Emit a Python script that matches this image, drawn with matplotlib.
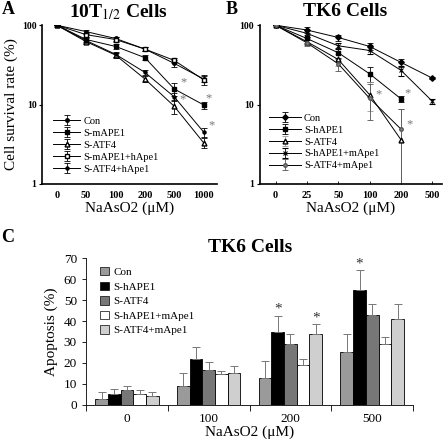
import matplotlib

matplotlib.use("Agg")

import matplotlib.pyplot as plt
import numpy as np
from matplotlib.patches import Patch

plt.rcParams["font.family"] = ["Liberation Serif", "DejaVu Serif"]
plt.rcParams["mathtext.fontset"] = "stix"

# ---- panel A: 10T1/2 cells survival ----
doses_a = ["0", "50", "100", "200", "500", "1000"]
a_con = [100, 83, 68, 50, 33, 21]
a_con_err = [0, 5, 4, 3, 3, 2]
a_mape1 = [100, 66, 54, 39, 15.7, 9.9]
a_mape1_err = [0, 5, 4, 3, 3, 1]
a_atf4 = [100, 62, 42, 21, 9.5, 3.3]
a_atf4_err = [0, 4, 3, 2, 1.8, 0.5]
a_mape1_hape1 = [100, 76, 66, 50, 36, 20.5]
a_mape1_hape1_err = [0, 4, 4, 3, 3, 3]
a_atf4_hape1 = [100, 64, 43, 25.4, 12.5, 4.5]
a_atf4_hape1_err = [0, 4, 3, 2, 1.5, 0.6]
a_stars = [(4.3, 19), (4.28, 11.5), (5.17, 12), (5.27, 5.5)]

# ---- panel B: TK6 cells survival ----
doses_b = ["0", "25", "50", "100", "200", "500"]
b_con = [100, 87, 70, 54, 34, 21.5]
b_con_err = [0, 8, 6, 5, 4, 0.5]
b_hape1 = [100, 68, 45, 24.4, 11.8]
b_hape1_err = [0, 8, 6, 5, 1]
b_atf4 = [100, 62, 37, 13.3, 3.6]
b_atf4_lo = [0, 5, 6, 5, 3.3]
b_atf4_hi = [0, 6, 6, 6, 5.2]
b_hape1_mape1 = [100, 79, 55, 48, 27, 11]
b_hape1_mape1_err = [0, 7, 5, 5, 4, 0.8]
b_atf4_mape1 = [100, 60, 32.6, 12, 4.9]
b_atf4_mape1_lo = [0, 5, 6, 5.7, 4.6]
b_atf4_mape1_hi = [0, 5, 5, 6, 4]
b_stars = [(3.27, 13.6), (4.2, 14), (4.26, 5.6)]

# ---- panel C: TK6 apoptosis ----
doses_c = ["0", "100", "200", "500"]
c_labels = ["Con", "S-hAPE1", "S-ATF4", "S-hAPE1+mApe1", "S-ATF4+mApe1"]
c_con = [3, 9, 13, 25]
c_con_err = [3, 6, 8, 9]
c_hape1 = [5, 22, 35, 55]
c_hape1_err = [2.8, 5.5, 7.5, 9.3]
c_atf4 = [7, 16.7, 29, 43]
c_atf4_err = [2, 3.8, 5, 5]
c_hape1_mape1 = [5, 14.5, 19, 29]
c_hape1_mape1_err = [2, 1.5, 3, 3.3]
c_atf4_mape1 = [4, 15, 34, 41]
c_atf4_mape1_err = [2.3, 3.6, 4.5, 7]
c_colors = ["#9a9a9a", "#000000", "#777777", "#ffffff", "#cfcfcf"]
c_stars = [(1.845, 45.5), (2.31, 41.5), (2.845, 67)]

fig = plt.figure(figsize=(4.48, 4.42), dpi=100)

ax_a = fig.add_axes([0.094, 0.584, 0.39, 0.359])
ax_b = fig.add_axes([0.580, 0.584, 0.406, 0.359])
ax_c = fig.add_axes([0.192, 0.084, 0.730, 0.332])

line_kw = dict(color="black", linewidth=0.7, elinewidth=0.6, capsize=2.5, capthick=0.6)


def style_log(ax, labels):
    ax.set_yscale("log")
    ax.set_ylim(1, 100)
    ax.set_xlim(-0.5, 5.45)
    ax.set_xticks(range(len(labels)))
    ax.set_xticklabels(labels, fontsize=7.5, fontweight="bold")
    ax.set_yticks([1, 10, 100])
    ax.set_yticklabels(["1", "10", "100"], fontsize=7, fontweight="bold")
    ax.yaxis.set_minor_locator(matplotlib.ticker.NullLocator())
    ax.tick_params(axis="y", length=2, width=0.8, pad=2)
    ax.tick_params(axis="x", direction="in", length=2, width=0.6, pad=5)
    for s in ["top", "right"]:
        ax.spines[s].set_visible(False)
    for s in ["left", "bottom"]:
        ax.spines[s].set_linewidth(1.2)
    ax.set_xlabel("NaAsO2 (μM)", fontsize=11, labelpad=1)


# panel A
xa = np.arange(len(doses_a))
ax_a.errorbar(xa, a_con, yerr=a_con_err, marker="o", ms=2.5, mfc="black", label="Con", **line_kw)
ax_a.errorbar(xa, a_mape1, yerr=a_mape1_err, marker="s", ms=3.5, mfc="black", label="S-mAPE1", **line_kw)
ax_a.errorbar(xa, a_atf4, yerr=a_atf4_err, marker="^", ms=3.5, mfc="white", label="S-ATF4", **line_kw)
ax_a.errorbar(xa, a_mape1_hape1, yerr=a_mape1_hape1_err, marker="s", ms=3.5, mfc="white",
              label="S-mAPE1+hApe1", **line_kw)
ax_a.errorbar(xa, a_atf4_hape1, yerr=a_atf4_hape1_err, marker="o", ms=2.2, mfc="black",
              label="S-ATF4+hApe1", **line_kw)
for x, y in a_stars:
    ax_a.text(x, y, "*", color="#777777", fontsize=9, ha="center", va="center")
style_log(ax_a, doses_a)
ax_a.tick_params(axis="x", length=0)
ax_a.set_ylabel("Cell survival rate (%)", fontsize=11, labelpad=3)
ax_a.legend(loc="upper left", bbox_to_anchor=(0.04, 0.45), frameon=False, fontsize=7.5,
            handlelength=2.6, labelspacing=0.25, handletextpad=0.3, borderaxespad=0)

# panel B
xb = np.arange(len(doses_b))
ax_b.errorbar(xb, b_con, yerr=b_con_err, marker="D", ms=2.8, mfc="black", label="Con", **line_kw)
ax_b.errorbar(xb[:len(b_hape1)], b_hape1, yerr=b_hape1_err, marker="s", ms=3.5, mfc="black",
              label="S-hAPE1", **line_kw)
ax_b.errorbar(xb[:len(b_atf4)], b_atf4, yerr=[b_atf4_lo, b_atf4_hi], marker="^", ms=3.5, mfc="white",
              label="S-ATF4", ecolor="#999999", **line_kw)
ax_b.errorbar(xb, b_hape1_mape1, yerr=b_hape1_mape1_err, marker="x", ms=3.5, mew=0.8,
              label="S-hAPE1+mApe1", **line_kw)
ax_b.errorbar(xb[:len(b_atf4_mape1)], b_atf4_mape1, yerr=[b_atf4_mape1_lo, b_atf4_mape1_hi],
              marker="o", ms=2.5, mfc="#888888", mec="#555555", label="S-ATF4+mApe1",
              ecolor="#555555", **line_kw)
for x, y in b_stars:
    ax_b.text(x, y, "*", color="#777777", fontsize=9, ha="center", va="center")
style_log(ax_b, doses_b)
ax_b.set_xlim(-0.5, 5.3)
ax_b.legend(loc="upper left", bbox_to_anchor=(0.03, 0.47), frameon=False, fontsize=7.5,
            handlelength=3.0, labelspacing=0.25, handletextpad=0.3, borderaxespad=0)

# panel C
series_c = [c_con, c_hape1, c_atf4, c_hape1_mape1, c_atf4_mape1]
errs_c = [c_con_err, c_hape1_err, c_atf4_err, c_hape1_mape1_err, c_atf4_mape1_err]
xc = np.arange(len(doses_c))
w = 0.155
for i, (vals, errs, col) in enumerate(zip(series_c, errs_c, c_colors)):
    ax_c.bar(xc + (i - 2) * w, vals, width=w, color=col, edgecolor="black", linewidth=0.6,
             yerr=[np.zeros(len(errs)), errs], ecolor="#777777",
             error_kw=dict(elinewidth=0.7, capsize=3, capthick=0.7), zorder=2)
for x, y in c_stars:
    ax_c.text(x, y, "*", color="#333333", fontsize=11, ha="center", va="center")
ax_c.set_xlim(-0.5, 3.5)
ax_c.set_ylim(0, 70)
ax_c.set_yticks(range(0, 71, 10))
ax_c.tick_params(axis="y", labelsize=9.5, length=3, width=0.6)
ax_c.set_xticks(np.arange(-0.5, 3.6, 1.0))
ax_c.set_xticklabels([])
ax_c.set_xticks(xc, minor=True)
ax_c.set_xticklabels(doses_c, minor=True, fontsize=9.5)
ax_c.tick_params(axis="x", which="major", length=4, width=0.6)
ax_c.tick_params(axis="x", which="minor", length=0, pad=6)
for s in ["top", "right"]:
    ax_c.spines[s].set_visible(False)
for s in ["left", "bottom"]:
    ax_c.spines[s].set_linewidth(0.6)
ax_c.set_xlabel("NaAsO2 (μM)", fontsize=11, labelpad=0)
ax_c.set_ylabel("Apoptosis (%)", fontsize=11, labelpad=4)
handles = [Patch(facecolor=c, edgecolor="black", linewidth=0.5) for c in c_colors]
ax_c.legend(handles, c_labels, loc="upper left", bbox_to_anchor=(0.03, 0.97), frameon=False,
            fontsize=8, handlelength=0.8, handleheight=0.8, labelspacing=0.4,
            handletextpad=0.4, borderaxespad=0)

# titles and panel letters
fig.text(118 / 448, 1 - 12 / 442, "10T$_{1/2}$ Cells", fontsize=14, fontweight="bold",
         ha="center", va="center")
fig.text(345 / 448, 1 - 12 / 442, "TK6 Cells", fontsize=14, fontweight="bold", ha="center", va="center")
fig.text(250 / 448, 1 - 248 / 442, "TK6 Cells", fontsize=14, fontweight="bold", ha="center", va="center")
fig.text(8 / 448, 1 - 10 / 442, "A", fontsize=13, fontweight="bold", ha="center", va="center")
fig.text(232 / 448, 1 - 10 / 442, "B", fontsize=13, fontweight="bold", ha="center", va="center")
fig.text(8 / 448, 1 - 238 / 442, "C", fontsize=13, fontweight="bold", ha="center", va="center")

fig.savefig("out.png", dpi=100)
